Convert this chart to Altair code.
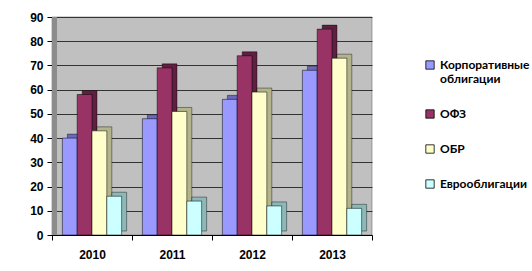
import altair as alt
import pandas as pd

years = ["2010", "2011", "2012", "2013"]
series = ["Корпоративные облигации", "ОФЗ", "ОБР", "Еврооблигации"]
corp = [40, 48, 56, 68]
ofz = [58, 69, 74, 85]
obr = [43, 51, 59, 73]
euro = [16, 14, 12, 11]
front_colors = ["#9999ff", "#993366", "#ffffcc", "#ccffff"]
side_colors = ["#6a6ab8", "#5e1f40", "#b3b38c", "#8cb8b8"]

rows = []
for s, vals in zip(series, [corp, ofz, obr, euro]):
    for y, v in zip(years, vals):
        rows.append({"year": y, "series": s, "value": v})
df = pd.DataFrame(rows)

W, H = 320, 218
STEP = W / len(years)
DEPTH = 5

x = alt.X("year:N", sort=years, title=None,
          scale=alt.Scale(paddingInner=0, paddingOuter=0),
          axis=alt.Axis(labelAngle=0, labelFont="Liberation Sans", labelFontWeight="bold",
                        labelFontSize=12, labelColor="black", labelPadding=9,
                        domainColor="black", tickColor="black", tickBand="extent",
                        tickSize=5, grid=False))


def xo(shift):
    return alt.XOffset("series:N", sort=series,
                       scale=alt.Scale(paddingInner=0, paddingOuter=0.7,
                                       range=[shift, STEP + shift]))


y = alt.Y("value:Q", title=None,
          scale=alt.Scale(domain=[0, 90], nice=False),
          axis=alt.Axis(values=list(range(0, 100, 10)), labelFont="Liberation Sans",
                        labelFontWeight="bold", labelFontSize=12, labelColor="black",
                        labelPadding=4, domainColor="black", tickColor="black", tickSize=5,
                        gridColor="#333333", gridWidth=1))

wall = alt.Chart(pd.DataFrame({"a": [0]})).mark_rect(color="#8c8c8c").encode(
    x=alt.value(0), x2=alt.value(5), y=alt.value(0), y2=alt.value(H))

side = alt.Chart(df).mark_bar(yOffset=-4, stroke="black", strokeWidth=0.4).encode(
    x=x, xOffset=xo(DEPTH), y=y,
    color=alt.Color("series:N", sort=series,
                    scale=alt.Scale(domain=series, range=side_colors), legend=None))

front = alt.Chart(df).mark_bar(stroke="black", strokeWidth=0.5).encode(
    x=x, xOffset=xo(0), y=y,
    color=alt.Color("series:N", sort=series, title=None,
                    scale=alt.Scale(domain=series, range=front_colors),
                    legend=alt.Legend(orient="none", legendX=372, legendY=42,
                                      symbolType="square", symbolSize=70,
                                      symbolStrokeColor="black", symbolStrokeWidth=0.8,
                                      labelFont="Lato", labelFontWeight="bold",
                                      labelFontSize=12, labelColor="black",
                                      labelLimit=200, rowPadding=23, padding=0,
                                      labelExpr="split(datum.label, ' ')")))

chart = alt.layer(wall, side, front).resolve_scale(
    color="independent", xOffset="independent").properties(
    width=W, height=H,
    autosize=alt.AutoSizeParams(type="none"),
    padding={"left": 52, "top": 17, "right": 160, "bottom": 36},
    background="white",
).configure_view(fill="#c0c0c0", stroke="#555555", strokeWidth=0.5)

chart.save("out.html", embed_options={"renderer": "svg", "actions": False})
